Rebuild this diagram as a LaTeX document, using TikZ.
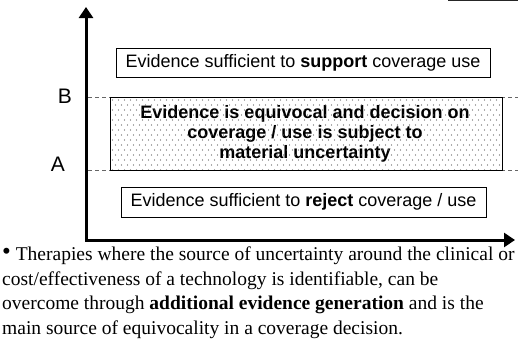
\documentclass[tikz,border=0pt]{standalone}
\usepackage{fontspec}
\setmainfont{Liberation Serif}
\setsansfont{Liberation Sans}
\usetikzlibrary{arrows.meta}
\tikzset{
  axisline/.style={line width=3pt, {Triangle[length=11pt,width=14pt]}-{Triangle[length=11pt,width=14pt]}},
  levelline/.style={gray!80!black, dash pattern=on 4pt off 3pt, line width=0.8pt},
  evbox/.style={draw, line width=0.8pt, font=\sffamily\fontsize{18}{21}\selectfont, inner sep=0pt},
  midtext/.style={font=\sffamily\bfseries\fontsize{18}{20}\selectfont, align=center},
  axlabel/.style={font=\sffamily\fontsize{21}{24}\selectfont},
  stip/.style={fill=black!65},
}
\begin{document}
\begin{tikzpicture}[x=1pt,y=-1pt]
\useasboundingbox (0,0) rectangle (518,351);
\fill[white] (0,0) rectangle (518,351);
% corner stub
\coordinate (s1) at (448,0.7);
\coordinate (s2) at (518,0.7);
\draw[line width=1.4pt, black!85] (s1) -- (s2);
% axes
\coordinate (ytop) at (86,7);
\coordinate (origin) at (86,240);
\coordinate (xend) at (515,240);
\draw[axisline] (ytop) -- (origin) -- (xend);
% levels
\coordinate (bl) at (88,97);
\coordinate (br) at (518,97);
\coordinate (al) at (88,170);
\coordinate (ar) at (518,170);
\draw[levelline] (bl) -- (br);
\draw[levelline] (al) -- (ar);
\node[axlabel] (B) at (65,96) {B};
\node[axlabel] (A) at (58,164) {A};
% top box
\node[evbox, minimum width=374pt, minimum height=29pt] (support) at (303,62.5) {Evidence sufficient to \textbf{support} coverage use};
% middle stippled box
\node[draw, line width=0.8pt, minimum width=392pt, minimum height=73pt, inner sep=0pt] (equiv) at (306,133.5) {};
\node[midtext] (equivtext) at (305,134) {Evidence is equivocal and decision on\\coverage / use is subject to\\material uncertainty};
\begin{scope}
\clip (111,98) rectangle (501,169);
\foreach \r in {0,...,14} {
  \pgfmathsetmacro{\yy}{100+5*\r}
  \pgfmathsetmacro{\off}{mod(\r,2)*3}
  \foreach \c in {0,...,65} {
    \fill[stip] ({112.5+\off+6*\c},\yy) circle (0.6pt);
  }
}
\end{scope}
% bottom box
\node[evbox, minimum width=365pt, minimum height=30pt] (reject) at (303.5,202) {Evidence sufficient to \textbf{reject} coverage / use};
% caption
\node[anchor=north west, align=left, inner sep=0pt, font=\fontsize{19.5}{24.5}\selectfont] (note) at (2,247) {\raisebox{1.5pt}{\fontsize{25}{25}\selectfont\textbullet}\ Therapies where the source of uncertainty around the clinical or\\cost/effectiveness of a technology is identifiable, can be\\overcome through \textbf{additional evidence generation} and is the\\main source of equivocality in a coverage decision.};
\end{tikzpicture}
\end{document}
